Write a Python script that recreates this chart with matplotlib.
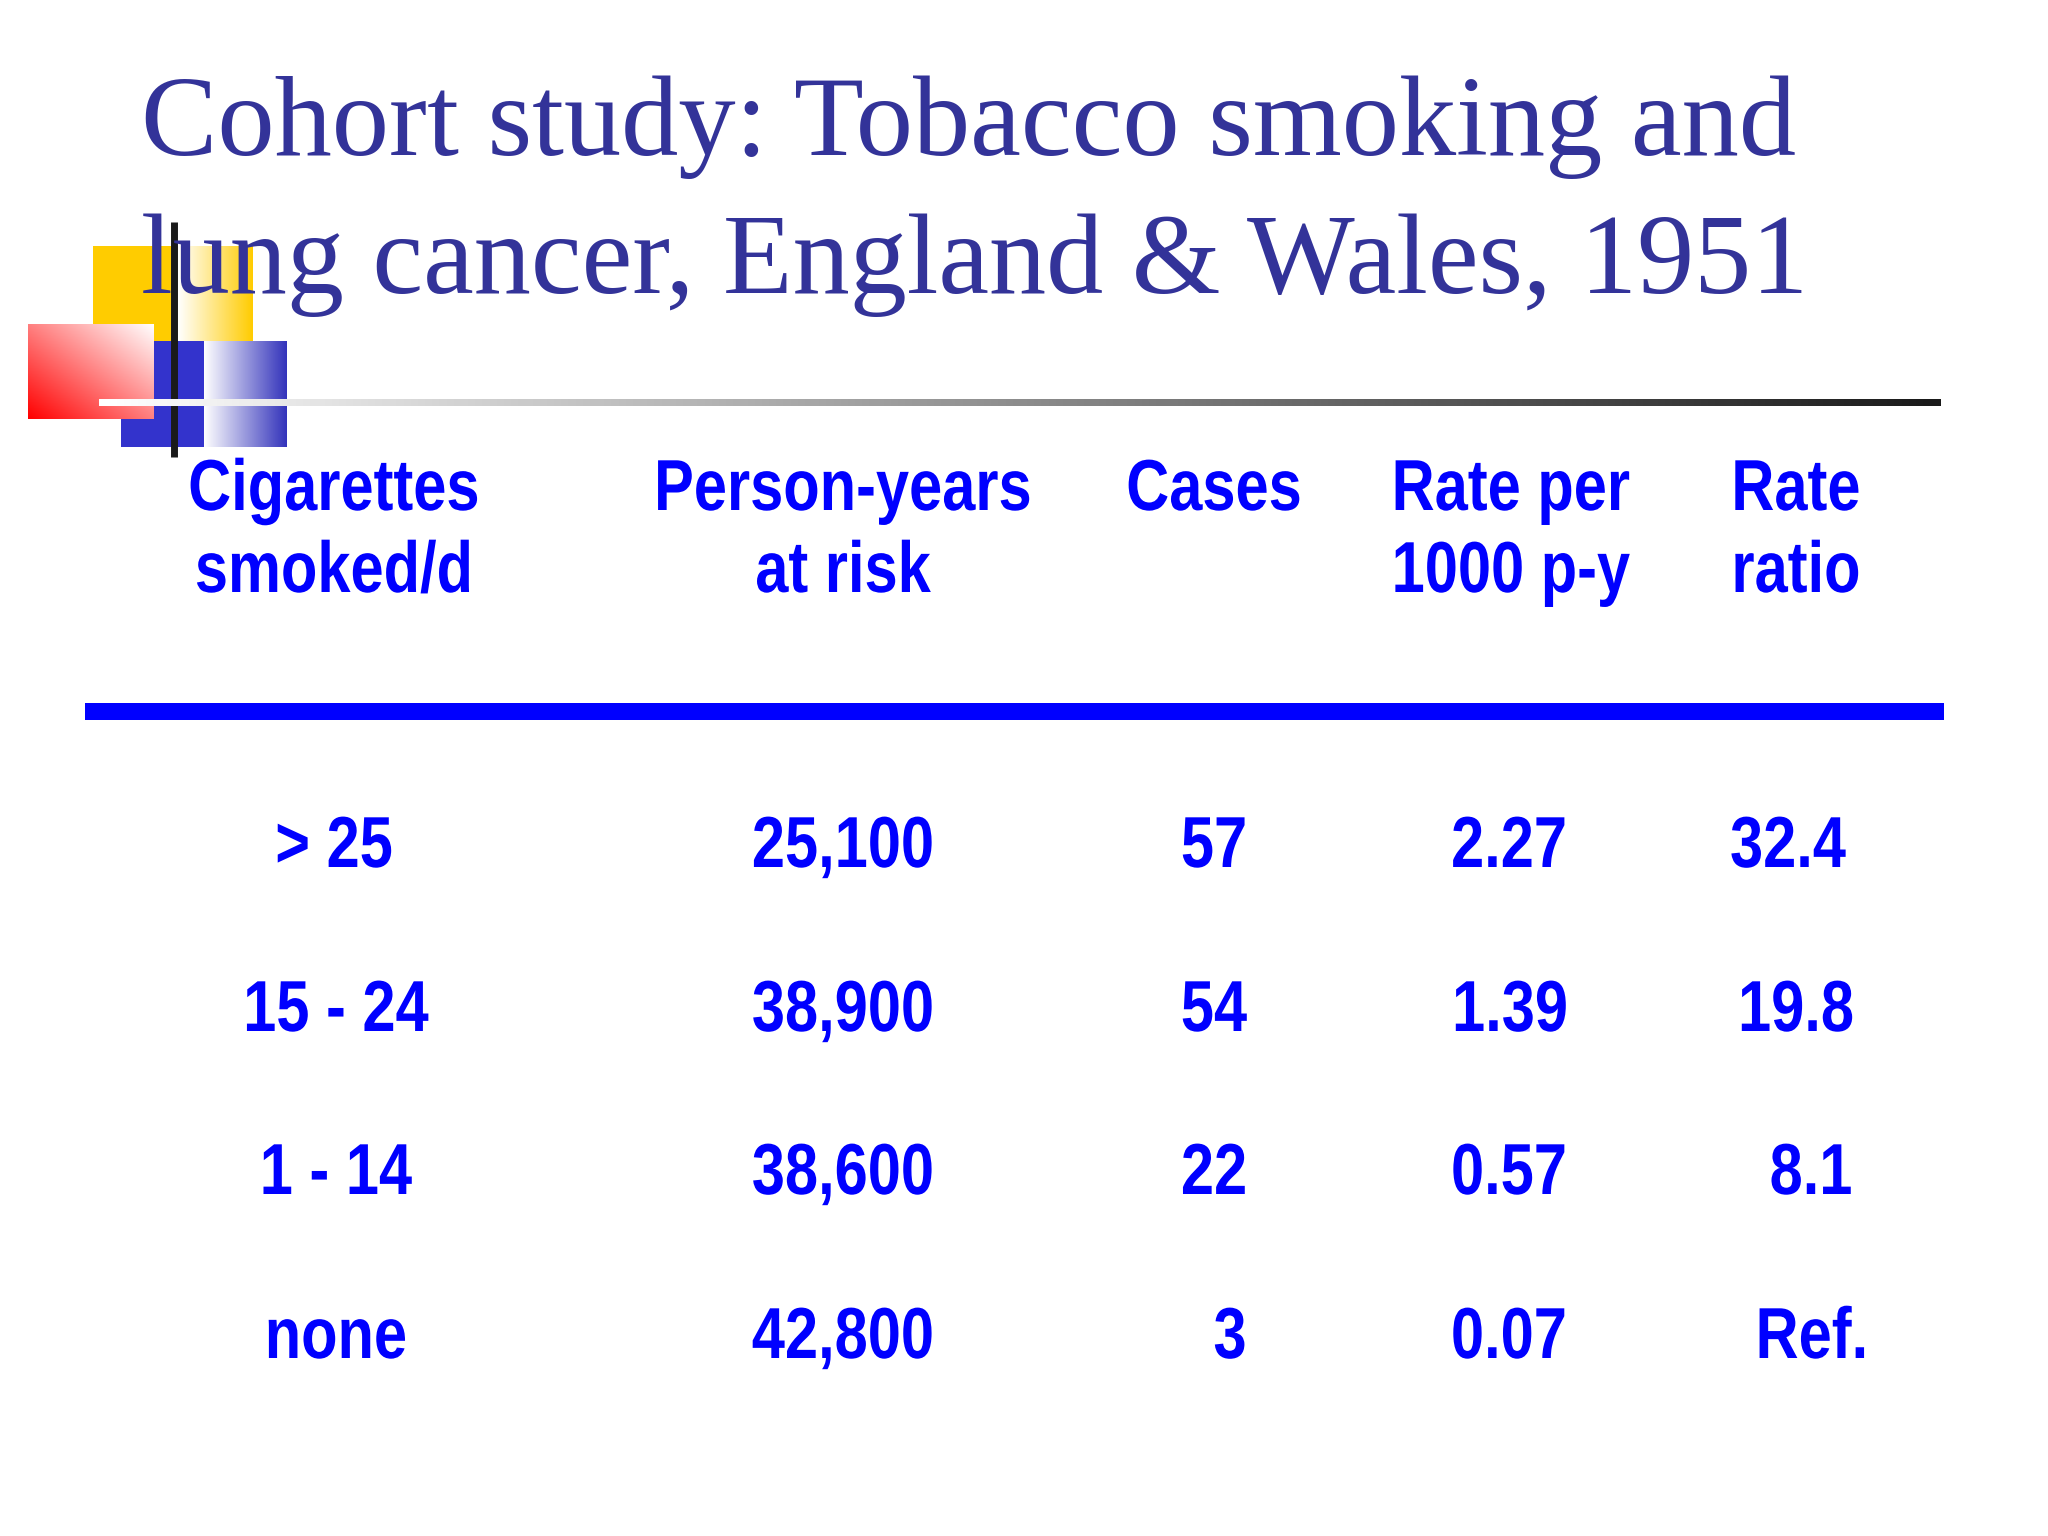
import numpy as np
import matplotlib
matplotlib.use("Agg")
import matplotlib.pyplot as plt
import matplotlib.patheffects as pe
from matplotlib.colors import LinearSegmentedColormap
from matplotlib.transforms import Affine2D

title_lines = ["Cohort study: Tobacco smoking and", "lung cancer, England & Wales, 1951"]
headers = [["Cigarettes", "smoked/d"], ["Person-years", "at risk"], ["Cases"],
           ["Rate per", "1000 p-y"], ["Rate", "ratio"]]
cigarettes = ["> 25", "15 - 24", "1 - 14", "none"]
person_years = ["25,100", "38,900", "38,600", "42,800"]
cases = ["57", "54", "22", "3"]
rates = ["2.27", "1.39", "0.57", "0.07"]
rate_ratio = ["32.4", "19.8", "8.1", "Ref."]

# layout in image pixels
W, H = 2048, 1536
header_x = [334, 843, 1214, 1511, 1796]
header_y = [510, 592]
row_y = [867, 1031, 1194, 1358]
cell_x = [
    [334, 336, 336, 336],
    [843, 843, 843, 843],
    [1214, 1214, 1214, 1230],
    [1509, 1510, 1509, 1509],
    [1788, 1796, 1811, 1812],
]

BLUE = "#0000FF"
TITLE = "#333399"
NARROW = 0.825  # no narrow Arial here, squeeze the bold one


class Squeeze(pe.AbstractPathEffect):
    def __init__(self, x0, sx):
        super().__init__()
        self.x0 = x0
        self.sx = sx

    def draw_path(self, renderer, gc, tpath, affine, rgbFace=None):
        squeeze = Affine2D().translate(-self.x0, 0).scale(self.sx, 1).translate(self.x0, 0)
        renderer.draw_path(gc, tpath, affine + squeeze, rgbFace)


fig = plt.figure(figsize=(20.48, 15.36), dpi=100)
ax = fig.add_axes([0, 0, 1, 1])
ax.axis("off")


def grad(x0, x1, y0, y1, colors, z, data=None):
    if data is None:
        data = np.linspace(0, 1, 256).reshape(1, -1)
    cmap = LinearSegmentedColormap.from_list("g", colors)
    ax.imshow(data, extent=(x0, x1, y1, y0), cmap=cmap, vmin=0, vmax=1,
              aspect="auto", zorder=z, interpolation="bilinear")


def body_text(x, y, s):
    ax.text(x, y, s, family="Liberation Sans", weight="bold", fontsize=52, color=BLUE,
            ha="center", va="baseline", zorder=6, path_effects=[Squeeze(x, NARROW)])


# logo blocks
ax.fill_between([93, 178], 246, 341, color="#FFCC00", lw=0, zorder=1)
grad(178, 253, 246, 341, ["#FFFFFF", "#FFCC00"], 1)
ax.fill_between([121, 204], 341, 447, color="#3333CC", lw=0, zorder=2)
grad(204, 287, 341, 447, ["#FFFFFF", "#3333BB"], 2)
# red block fades from the lower left corner to the upper right
xx, yy = np.meshgrid(np.linspace(0, 1, 200), np.linspace(0, 1, 200))
grad(28, 154, 324, 419, ["#FF0000", "#FFFFFF"], 3, data=(xx + (1 - yy)) / 2)
ax.plot([174, 174], [222, 457], color="#1A1A1A", lw=5, solid_capstyle="butt", zorder=4)
grad(99, 1941, 399, 406, ["#FFFFFF", "#1A1A1A"], 5)

# heavy rule under the header
ax.fill_between([85, 1944], 703, 720, color=BLUE, lw=0, zorder=1)

for line, size, y in zip(title_lines, [82.4, 82.2], [155, 293]):
    ax.text(141, y, line, family="Liberation Serif", fontsize=size, color=TITLE,
            ha="left", va="baseline", zorder=6)

for x, lines in zip(header_x, headers):
    for line, y in zip(lines, header_y):
        body_text(x, y, line)

columns = [cigarettes, person_years, cases, rates, rate_ratio]
for xs, col in zip(cell_x, columns):
    for x, y, val in zip(xs, row_y, col):
        body_text(x, y, val)

ax.set_xlim(0, W)
ax.set_ylim(H, 0)
fig.savefig("out.png", dpi=100)
